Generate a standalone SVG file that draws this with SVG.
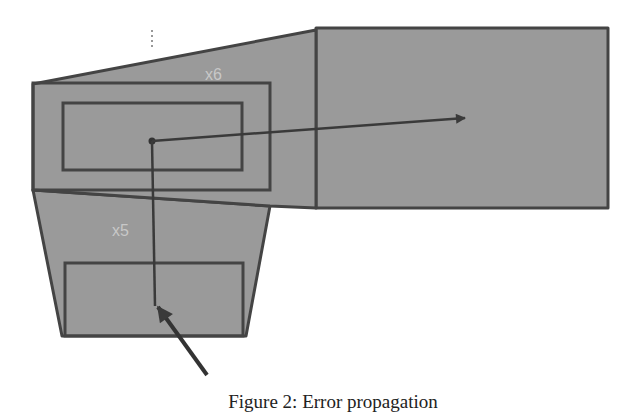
<svg xmlns="http://www.w3.org/2000/svg" width="640" height="416" viewBox="0 0 640 416">
<style>
.sh{fill:#9a9a9a;stroke:#444;stroke-width:3;stroke-linejoin:round}
.bx{fill:none;stroke:#444;stroke-width:3}
.ln{fill:none;stroke:#3a3a3a;stroke-width:2.5}
.lb{font-family:"Liberation Sans",sans-serif;font-size:16px;fill:#c8c8c8}
</style>
<defs><marker id="ah" viewBox="0 0 10 10" refX="9" refY="5" markerWidth="5" markerHeight="4" orient="auto"><path d="M0,0L10,5L0,10z" fill="#3a3a3a"/></marker></defs>
<rect width="640" height="416" fill="#fff"/>
<line x1="152" y1="30" x2="152" y2="48" stroke="#777" stroke-width="1.5" stroke-dasharray="2,3"/>
<g id="right"><rect class="sh" x="316" y="28" width="292" height="180"/></g>
<g id="lower"><polygon class="sh" points="33,190 270,206 246,336 62,336"/><rect class="bx" x="65" y="263" width="178" height="73"/><text class="lb" x="112" y="236">x5</text></g>
<g id="upper"><polygon class="sh" points="33,84 316,30 316,208 270,206 33,190"/><rect class="bx" x="33" y="83" width="237" height="107"/><rect class="bx" x="63" y="103" width="179" height="67"/><text class="lb" x="205" y="80">x6</text></g>
<g id="connectors">
<circle cx="152" cy="141" r="3.5" fill="#333"/>
<path class="ln" d="M152,141 L465,118" marker-end="url(#ah)"/>
<path class="ln" d="M152,141 L155,306"/>
<path d="M207,375 L158,307" stroke="#333" stroke-width="4" fill="none" marker-end="url(#ah)"/>
</g>
<text x="333" y="408" font-family="Liberation Serif,serif" font-size="19" text-anchor="middle" fill="#222">Figure 2: Error propagation</text>
</svg>
